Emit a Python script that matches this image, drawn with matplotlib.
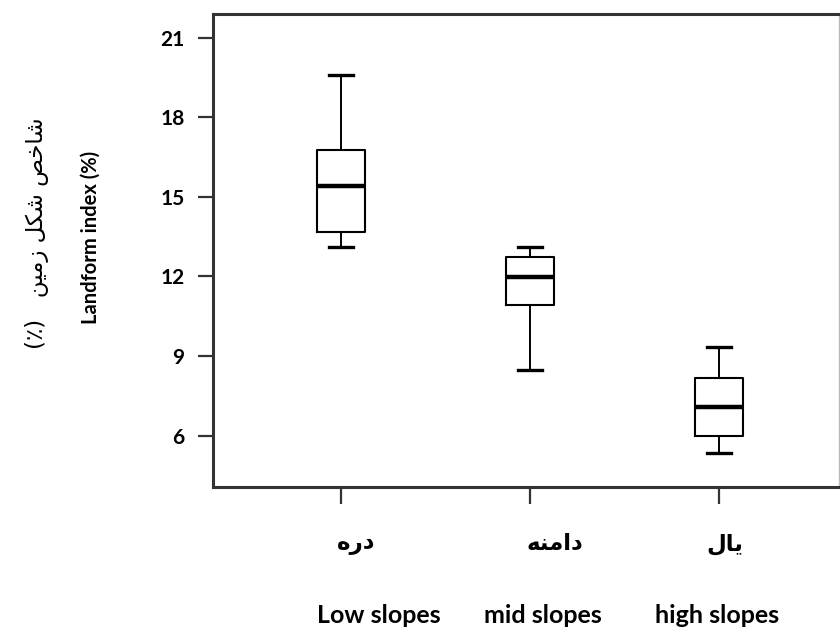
import matplotlib
matplotlib.use("Agg")
import matplotlib.pyplot as plt
import matplotlib.transforms as mtransforms

# values
groups_fa = ["\uFEE9\uFEAD\uFEA9", "\uFEEA\uFEE8\uFEE3\uFE8D\uFEA9", "\uFEDD\uFE8E\uFEF3"]  # دره / دامنه / یال (visual order)
groups_en = ["Low slopes", "mid slopes", "high slopes"]
whisker_low = [13.10, 8.47, 5.34]
q1 = [13.66, 10.92, 5.99]
median = [15.42, 11.98, 7.09]
q3 = [16.77, 12.73, 8.17]
whisker_high = [19.61, 13.10, 9.35]
yticks = [6, 9, 12, 15, 18, 21]

# (٪) زمین شکل شاخص  -> pre-shaped, visual order
ylabel_fa = "(\u066A)   \uFEE6\uFEF4\uFEE3\uFEAF \uFEDE\uFEDC\uFEB7 \uFEBA\uFEA7\uFE8E\uFEB7"

fig = plt.figure(figsize=(8.4, 6.27), dpi=100)
ax = fig.add_axes([0.2530, 0.2233, 0.7455, 0.7544])

stats = []
for i in range(len(groups_en)):
    stats.append(dict(whislo=whisker_low[i], q1=q1[i], med=median[i],
                      q3=q3[i], whishi=whisker_high[i], fliers=[]))

ax.bxp(stats, positions=[1, 2, 3], widths=0.252, capwidths=0.125,
       showfliers=False, patch_artist=False,
       boxprops=dict(color="black", linewidth=1.5),
       whiskerprops=dict(color="black", linewidth=1.4),
       capprops=dict(color="black", linewidth=2.4),
       medianprops=dict(color="black", linewidth=3.2))

ax.set_xlim(0.32, 3.635)
ax.set_ylim(4.07, 21.89)
ax.set_yticks(yticks)
ax.set_yticklabels([str(v) for v in yticks], fontfamily="Lato", fontweight="bold", fontsize=15)
ax.tick_params(axis="y", length=11, width=1.6, pad=9, color="#333333")
ax.set_xticks([1, 2, 3])
ax.set_xticklabels([])
ax.tick_params(axis="x", length=12, width=1.6, color="#333333")

for side in ["left", "bottom", "top"]:
    ax.spines[side].set_linewidth(2.2)
    ax.spines[side].set_color("#333333")
ax.spines["right"].set_linewidth(1.0)
ax.spines["right"].set_color("#bbbbbb")

# category labels under the axis (hand placed, like the original)
trans = mtransforms.blended_transform_factory(ax.transData, fig.transFigure)
fa_x = [1.08, 2.13, 3.03]
en_x = [1.20, 2.07, 2.99]
for i in range(3):
    ax.text(fa_x[i], 0.133, groups_fa[i], transform=trans, ha="center", va="center",
            fontfamily="DejaVu Sans", fontweight="bold", fontsize=16.5)
    ax.text(en_x[i], 0.019, groups_en[i], transform=trans, ha="center", va="center",
            fontfamily="Lato", fontweight="bold", fontsize=18)

fig.text(0.108, 0.622, "Landform index (%)", rotation=90, ha="center", va="center",
         fontfamily="Lato", fontweight="bold", fontsize=14.5)
fig.text(0.044, 0.628, ylabel_fa, rotation=90, ha="center", va="center",
         fontfamily=["DejaVu Sans"], fontsize=16.5)

fig.savefig("out.png", dpi=100, facecolor="white")
